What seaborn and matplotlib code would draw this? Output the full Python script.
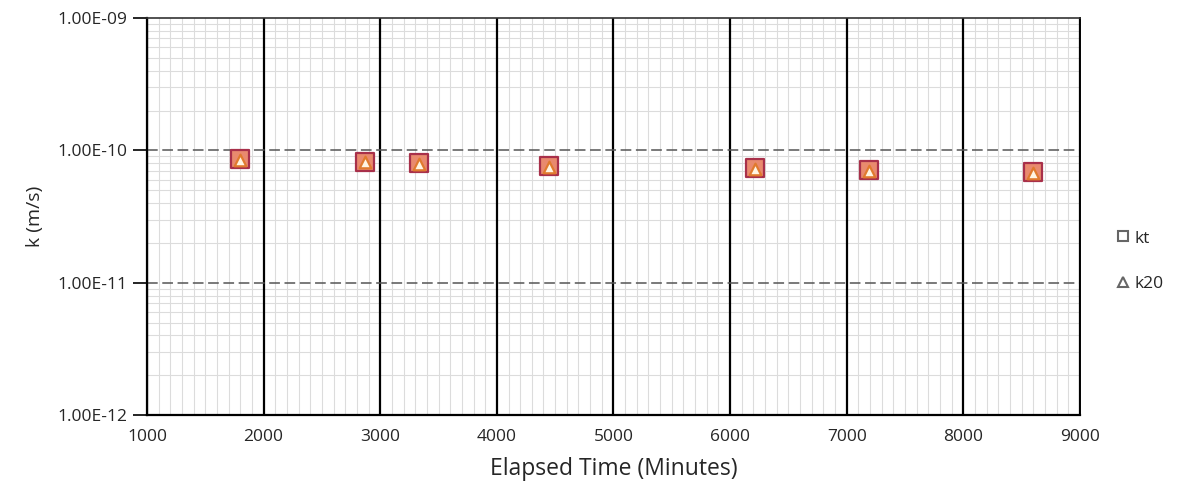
import matplotlib.pyplot as plt
import matplotlib.ticker as mticker
from matplotlib.lines import Line2D
import seaborn as sns
import pandas as pd
import numpy as np

# readings
elapsed_min = [1800, 2870, 3330, 4450, 6210, 7190, 8600]
kt = [8.6e-11, 8.2e-11, 8.0e-11, 7.6e-11, 7.3e-11, 7.1e-11, 6.9e-11]
k20 = [8.5e-11, 8.1e-11, 7.9e-11, 7.5e-11, 7.2e-11, 7.0e-11, 6.8e-11]
y_ticks = [1e-12, 1e-11, 1e-10, 1e-9]
y_labels = ['1.00E-12', '1.00E-11', '1.00E-10', '1.00E-09']
x_ticks = [1000, 2000, 3000, 4000, 5000, 6000, 7000, 8000, 9000]

df = pd.DataFrame({
    'time': elapsed_min * 2,
    'k': kt + k20,
    'series': ['kt'] * len(kt) + ['k20'] * len(k20),
})

sns.set_style('white')
plt.rcParams['font.family'] = ['Open Sans', 'DejaVu Sans']

fig = plt.figure(figsize=(11.92, 4.93), dpi=100)
ax = fig.add_axes([0.1233, 0.158, 0.7827, 0.8055])

ax.set_yscale('log')
ax.set_xlim(1000, 9000)
ax.set_ylim(1e-12, 1e-9)

# grid: light minor, dashed major y, heavy major x
ax.xaxis.set_minor_locator(mticker.MultipleLocator(100))
ax.yaxis.set_minor_locator(mticker.LogLocator(base=10, subs=np.arange(2, 10)))
ax.set_axisbelow(True)
ax.grid(which='minor', axis='both', color='#dcdcdc', linewidth=0.8)
ax.grid(which='major', axis='x', color='black', linewidth=1.6)
ax.grid(which='major', axis='y', visible=False)
ax.xaxis.set_zorder(0.7)
ax.yaxis.set_zorder(0.5)
for yv in y_ticks[1:-1]:
    ax.axhline(yv, color='#555555', linestyle=(0, (7, 3)), linewidth=1.1, zorder=0.9)

sq = df[df['series'] == 'kt']
tr = df[df['series'] == 'k20']
sns.scatterplot(data=sq, x='time', y='k', marker='s', s=150, color='#E98A6E',
                edgecolor='#A8304A', linewidth=1.6, ax=ax, legend=False, zorder=3)
sns.scatterplot(data=tr, x='time', y='k', marker='^', s=70, color='#FFF4E2',
                edgecolor='#E07A2E', linewidth=1.6, ax=ax, legend=False, zorder=4)

ax.set_xticks(x_ticks)
ax.set_xticklabels([str(v) for v in x_ticks], fontsize=12.5)
ax.set_yticks(y_ticks)
ax.set_yticklabels(y_labels, fontsize=12.5)
ax.tick_params(axis='y', which='major', length=10, width=1.2, color='black', left=True, pad=4)
ax.tick_params(axis='y', which='minor', length=0)
ax.tick_params(axis='x', which='both', length=0, pad=10)

for side in ['left', 'bottom']:
    ax.spines[side].set_color('black')
    ax.spines[side].set_linewidth(1.6)
ax.spines['top'].set_color('#333333')
ax.spines['top'].set_linewidth(1.2)
ax.spines['right'].set_color('black')
ax.spines['right'].set_linewidth(1.4)

ax.set_xlabel('Elapsed Time (Minutes)', fontsize=16.5, labelpad=9)
ax.set_ylabel('k (m/s)', fontsize=14, labelpad=10)

handles = [
    Line2D([], [], marker='s', linestyle='none', markersize=7, markerfacecolor='white',
           markeredgecolor='#666666', markeredgewidth=1.5, label='kt'),
    Line2D([], [], marker='^', linestyle='none', markersize=7, markerfacecolor='white',
           markeredgecolor='#666666', markeredgewidth=1.5, label='k20'),
]
fig.legend(handles=handles, loc='center left', bbox_to_anchor=(0.924, 0.47), frameon=False,
           fontsize=12.5, labelspacing=1.7, handlelength=0.7, handletextpad=0.3)

fig.savefig('out.png', dpi=100, facecolor='white')
